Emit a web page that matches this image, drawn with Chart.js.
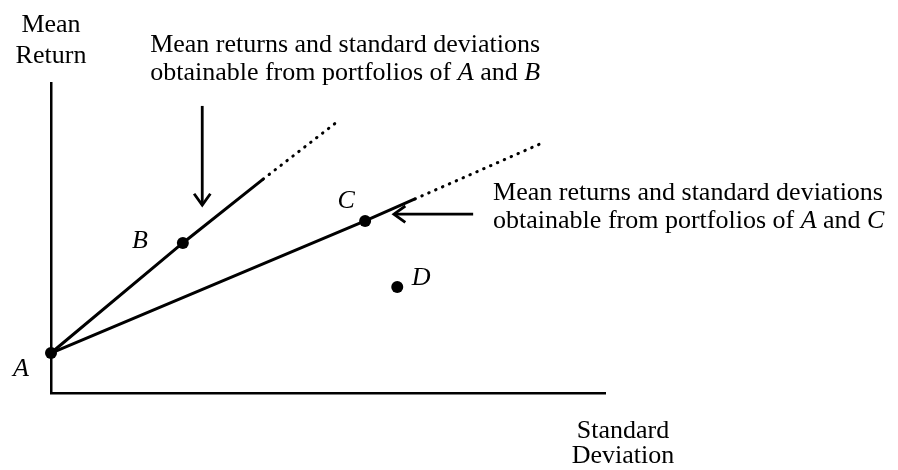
<!DOCTYPE html>
<html>
<head>
<meta charset="utf-8">
<script src="https://cdn.jsdelivr.net/npm/chart.js@4.4.1/dist/chart.umd.min.js"></script>
<style>
  html, body { margin: 0; padding: 0; background: #fff; }
</style>
</head>
<body>
<canvas id="frontier" width="898" height="470"></canvas>
<script>
// Portfolios: standard deviation (x) against mean return (y)
const names = ['A', 'B', 'C', 'D'];
const stdDevs = [0, 23.8, 56.7, 62.5];
const meanReturns = [12.9, 48.4, 55.5, 34.2];

// Where the solid part of each combination line stops, and where its dotted extension ends
const abSolidEnd = [38.3, 69.0];
const abDottedEnd = [51.6, 87.4];
const acSolidEnd = [65.7, 62.6];
const acDottedEnd = [88.6, 80.6];

// Arrows as [x1, y1, x2, y2], head at the second end
const arrowB = [27.3, 92.6, 27.3, 60.6];
const arrowC = [76.2, 57.7, 61.9, 57.7];

// Note texts, split in runs of [text, italic]
const noteB = [
    [['Mean returns and standard deviations', false]],
    [['obtainable from portfolios of ', false], ['A', true], [' and ', false], ['B', true]]
];
const noteC = [
    [['Mean returns and standard deviations', false]],
    [['obtainable from portfolios of ', false], ['A', true], [' and ', false], ['C', true]]
];
const yTitle = ['Mean', 'Return'];
const xTitle = ['Standard', 'Deviation'];

const FONT = '"Liberation Serif", "Times New Roman", serif';
const FONT_SIZE = 26;

// pixel offsets of each point letter from its dot (baseline, centred)
const letterOffsets = { A: [-30, 23], B: [-43, 5], C: [-19, -13], D: [24, -2] };

const pt = (x, y) => ({ x: x, y: y });
const portfolioPoints = names.map((n, i) => pt(stdDevs[i], meanReturns[i]));

function drawRuns(ctx, runs, x, y) {
    let cx = x;
    runs.forEach(([text, italic]) => {
        ctx.font = (italic ? 'italic ' : '') + FONT_SIZE + 'px ' + FONT;
        ctx.fillText(text, cx, y);
        cx += ctx.measureText(text).width;
    });
}

function drawArrow(ctx, x1, y1, x2, y2) {
    const ang = Math.atan2(y2 - y1, x2 - x1);
    const head = 14, spread = 0.62;
    ctx.beginPath();
    ctx.moveTo(x1, y1);
    ctx.lineTo(x2, y2);
    ctx.stroke();
    ctx.beginPath();
    ctx.moveTo(x2 - head * Math.cos(ang - spread), y2 - head * Math.sin(ang - spread));
    ctx.lineTo(x2, y2);
    ctx.lineTo(x2 - head * Math.cos(ang + spread), y2 - head * Math.sin(ang + spread));
    ctx.stroke();
}

// Letters, arrows, notes and axis titles
const annotations = {
    id: 'annotations',
    afterDatasetsDraw(chart) {
        const ctx = chart.ctx;
        const xs = chart.scales.x, ys = chart.scales.y;
        const area = chart.chartArea;
        const px = v => xs.getPixelForValue(v);
        const py = v => ys.getPixelForValue(v);

        ctx.save();
        ctx.fillStyle = '#000';
        ctx.strokeStyle = '#000';
        ctx.textBaseline = 'alphabetic';

        // point letters
        ctx.font = 'italic ' + FONT_SIZE + 'px ' + FONT;
        ctx.textAlign = 'center';
        names.forEach((n, i) => {
            const off = letterOffsets[n];
            ctx.fillText(n, px(stdDevs[i]) + off[0], py(meanReturns[i]) + off[1]);
        });

        // arrows
        ctx.lineWidth = 2.8;
        ctx.lineCap = 'butt';
        ctx.lineJoin = 'miter';
        [arrowB, arrowC].forEach(a => drawArrow(ctx, px(a[0]), py(a[1]), px(a[2]), py(a[3])));

        // notes
        ctx.textAlign = 'left';
        drawRuns(ctx, noteB[0], px(17.9), py(110));
        drawRuns(ctx, noteB[1], px(17.9), py(101));
        drawRuns(ctx, noteC[0], px(79.8), py(62.3));
        drawRuns(ctx, noteC[1], px(79.8), py(53.2));

        // axis titles
        ctx.font = FONT_SIZE + 'px ' + FONT;
        ctx.textAlign = 'center';
        ctx.fillText(yTitle[0], area.left, area.top - 51);
        ctx.fillText(yTitle[1], area.left, area.top - 20);
        ctx.fillText(xTitle[0], area.right + 18, area.bottom + 45);
        ctx.fillText(xTitle[1], area.right + 18, area.bottom + 70);
        ctx.restore();
    }
};

const solid = {
    showLine: true, borderColor: '#000', borderWidth: 3,
    pointRadius: 0, clip: false, order: 2
};
const dotted = {
    showLine: true, borderColor: '#000', borderWidth: 3,
    borderDash: [0.5, 7], borderCapStyle: 'round',
    pointRadius: 0, clip: false, order: 2
};

new Chart(document.getElementById('frontier'), {
    type: 'scatter',
    data: {
        datasets: [
            Object.assign({ label: 'A and B', data: [portfolioPoints[0], portfolioPoints[1], pt(abSolidEnd[0], abSolidEnd[1])] }, solid),
            Object.assign({ label: 'A and B, extended', data: [pt(abSolidEnd[0], abSolidEnd[1]), pt(abDottedEnd[0], abDottedEnd[1])] }, dotted),
            Object.assign({ label: 'A and C', data: [portfolioPoints[0], portfolioPoints[2], pt(acSolidEnd[0], acSolidEnd[1])] }, solid),
            Object.assign({ label: 'A and C, extended', data: [pt(acSolidEnd[0], acSolidEnd[1]), pt(acDottedEnd[0], acDottedEnd[1])] }, dotted),
            {
                label: 'Portfolios',
                data: portfolioPoints,
                pointRadius: 6,
                pointBackgroundColor: '#000',
                pointBorderWidth: 0,
                showLine: false,
                clip: false,
                order: 1
            }
        ]
    },
    options: {
        responsive: false,
        animation: false,
        events: [],
        layout: { padding: { left: 51, top: 83, right: 293, bottom: 77 } },
        plugins: { legend: { display: false }, tooltip: { enabled: false } },
        scales: {
            x: {
                type: 'linear', min: 0, max: 100,
                grid: { display: false, drawTicks: false },
                ticks: { display: false },
                border: { display: true, color: '#000', width: 2.5 }
            },
            y: {
                type: 'linear', min: 0, max: 100,
                grid: { display: false, drawTicks: false },
                ticks: { display: false },
                border: { display: true, color: '#000', width: 2.5 }
            }
        }
    },
    plugins: [annotations]
});
</script>
</body>
</html>
